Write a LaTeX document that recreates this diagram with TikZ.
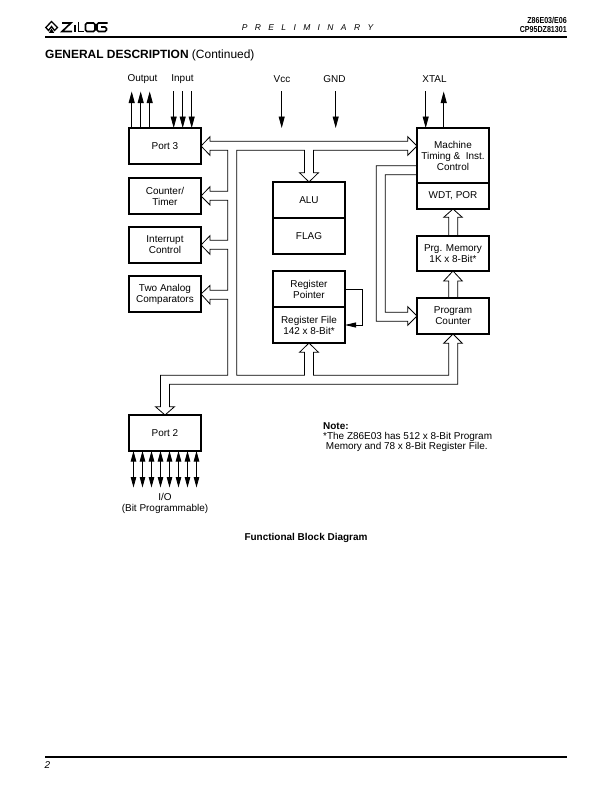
\documentclass[tikz,border=0pt]{standalone}
\usepackage{fontspec}
\setmainfont{Liberation Sans}
\newfontfamily\narrowf[FakeStretch=0.82]{Liberation Sans}
\usetikzlibrary{arrows.meta,calc}
\tikzset{
  block/.style={draw=black,line width=1.7bp,minimum width=72bp,inner sep=0pt,outer sep=0pt,align=center,font=\fontsize{10}{11}\selectfont,execute at begin node={\vspace*{1.6bp}}},
  bus/.style={draw=black,line width=0.8bp,line join=miter},
  sigin/.style={draw=black,line width=0.8bp,-{Triangle[length=11.5bp,width=6bp]}},
  sigfb/.style={draw=black,line width=0.8bp,-{Triangle[length=11bp,width=5bp]}},
  sigboth/.style={draw=black,line width=0.8bp,{Triangle[length=10.5bp,width=5.5bp]}-{Triangle[length=10.5bp,width=5.5bp]}},
  lbl/.style={inner sep=0pt,align=center,font=\fontsize{10}{11}\selectfont},
  rulebar/.style={draw=black,line width=2bp},
  logo/.style={draw=black,line width=1.6bp,line cap=butt}
}
\begin{document}
\begin{tikzpicture}[x=1bp,y=-1bp]
\useasboundingbox (0,0) rectangle (612,792);
% header
\coordinate (rtl) at (45,37); \coordinate (rtr) at (567,37);
\draw[rulebar] (rtl) -- (rtr);
\coordinate (rbl) at (45,757); \coordinate (rbr) at (567,757);
\draw[rulebar] (rbl) -- (rbr);
% logo
\draw[logo,line width=1.3bp] (51.5,21.5) -- (45.8,27.5) -- (48.5,30.5) -- (51.5,26.5) -- (54.5,30.5) -- (57.5,27.5) -- cycle;
\fill (51.5,28.5) -- (48.8,33) -- (54.2,33) -- cycle;
\draw[logo] (62,23) -- (71,23) -- (62,31.5) -- (72,31.5);
\draw[logo] (75,25) -- (75,32);
\draw[logo] (78.5,22) -- (78.5,31.5) -- (84,31.5);
\draw[logo,rounded corners=1.5bp] (85.5,23) rectangle (95,31.5);
\draw[logo,rounded corners=1.5bp] (107.5,23) -- (97,23) -- (97,31.5) -- (106.5,31.5) -- (106.5,27) -- (101,27);
\node[lbl,anchor=center,font=\fontsize{8.5}{10}\selectfont\itshape] (prelim) at (307.5,28) {P\hspace{7.4bp}R\hspace{7.4bp}E\hspace{7.4bp}L\hspace{7.4bp}I\hspace{7.4bp}M\hspace{7.4bp}I\hspace{7.4bp}N\hspace{7.4bp}A\hspace{7.4bp}R\hspace{7.4bp}Y};
\node[lbl,anchor=east,font=\fontsize{8.7}{9}\selectfont\bfseries\narrowf,align=right] (docid) at (567,24.7) {Z86E03/E06\\CP95DZ81301};
\node[lbl,anchor=west,font=\fontsize{12}{14}\selectfont] (title) at (45,55) {\textbf{GENERAL DESCRIPTION} (Continued)};
\node[lbl,anchor=west,font=\fontsize{10}{12}\selectfont\itshape] (pageno) at (44.5,765.5) {2};
% blocks
\node[block,minimum height=36bp] (port3) at (165,146) {Port 3};
\node[block,minimum height=36bp] (ct) at (165,196) {Counter/\\Timer};
\node[block,minimum height=36bp] (ic) at (165,245) {Interrupt\\Control};
\node[block,minimum height=36bp] (tac) at (165,294) {Two Analog\\Comparators};
\node[block,minimum height=36bp] (port2) at (165,433) {Port 2};
\node[block,minimum height=36bp] (alu) at (309,200) {ALU};
\node[block,minimum height=36bp] (flag) at (309,236) {FLAG};
\node[block,minimum height=36bp] (rp) at (309,289) {Register\\Pointer};
\node[block,minimum height=36bp] (rf) at (309,325) {Register File\\142 x 8-Bit*};
\node[block,minimum height=55bp] (mt) at (453,155.5) {Machine\\Timing \&\ \ Inst.\\Control};
\node[block,minimum height=26bp] (wdt) at (453,196) {WDT, POR};
\node[block,minimum height=35bp] (pm) at (453,253.5) {Prg. Memory\\1K x 8-Bit*};
\node[block,minimum height=36bp] (pc) at (453,316) {Program\\Counter};
% top labels
\node[lbl] (loutput) at (142.5,79.3) {Output};
\node[lbl] (linput) at (182.5,79.3) {Input};
\node[lbl] (lvcc) at (282,79.3) {Vcc};
\node[lbl] (lgnd) at (334.5,79.3) {GND};
\node[lbl] (lxtal) at (434.5,79.3) {XTAL};
% signal ends
\foreach \n/\x in {o1/131.7,o2/140.7,o3/149.7,xo/443.7}{\coordinate (\n) at (\x,91.5);}
\foreach \n/\x in {i1/173.7,i2/182.7,i3/191.7,vcc/281.7,gnd/335.7,xi/425.7}{\coordinate (\n) at (\x,91);}
\foreach \n in {o1,o2,o3}{\draw[sigin] (\n |- port3.north) -- (\n);}
\draw[sigin] (xo |- mt.north) -- (xo);
\foreach \n in {i1,i2,i3}{\draw[sigin] (\n) -- (\n |- port3.north);}
\draw[sigin] (xi) -- (xi |- mt.north);
\coordinate (vccend) at (281.7,128); \coordinate (gndend) at (335.7,128);
\draw[sigin] (vcc) -- (vccend);
\draw[sigin] (gnd) -- (gndend);
% port 2 I/O
\foreach \i in {0,...,7}{
  \coordinate (pb\i) at ({133.5+9*\i},487.5);
  \draw[sigboth] (pb\i |- port2.south) -- (pb\i);
}
\node[lbl] (lio) at (165,503.5) {I/O\\(Bit Programmable)};
% register feedback
\coordinate (fb) at (362.3,307);
\draw[sigfb] (rp.east |- 0,289.3) -| (fb) |- (rf.east);
% bus 1: port 3 / machine timing
\draw[bus] (210,150.3) -- (210,155.3) -- (port3.east) -- (210,136.7) -- (210,141.3) -- (407.7,141.3) -- (407.7,136.7) -- (mt.west |- 0,146) -- (407.7,155.3) -- (407.7,150.3) -- (313.4,150.3) -- (313.4,172.7) -- (318.5,172.7) -- (alu.north) -- (299.5,172.7) -- (304.4,172.7) -- (304.4,150.3) -- (236.7,150.3) -- (236.7,375.3) -- (304.4,375.3) -- (304.4,352.3) -- (299.5,352.3) -- (rf.south) -- (318.5,352.3) -- (313.4,352.3) -- (313.4,375.3) -- (448.7,375.3) -- (448.7,343.3) -- (443.7,343.3) -- (pc.south) -- (462.3,343.3) -- (457.7,343.3) -- (457.7,384.3) -- (169.4,384.3) -- (169.4,406.7) -- (174.5,406.7) -- (port2.north) -- (155.5,406.7) -- (160.4,406.7) -- (160.4,375.3) -- (227.7,375.3) -- (227.7,299.3) -- (210,299.3) -- (210,304) -- (tac.east) -- (210,285.5) -- (210,290.3) -- (227.7,290.3) -- (227.7,249.3) -- (210,249.3) -- (210,254.3) -- (ic.east) -- (210,235.7) -- (210,240.3) -- (227.7,240.3) -- (227.7,200.3) -- (210,200.3) -- (210,205) -- (ct.east) -- (210,186.7) -- (210,191.3) -- (227.7,191.3) -- (227.7,150.3) -- cycle;
% bus 2: machine timing to program counter
\draw[bus] (mt.west |- 0,165.7) -- (376.3,165.7) -- (376.3,321.3) -- (407.7,321.3) -- (407.7,325.3) -- (pc.west) -- (407.7,306.7) -- (407.7,312.3) -- (385.3,312.3) -- (385.3,174.7) -- (mt.west |- 0,174.7);
% memory arrows
\draw[bus] (448.7,235.7) -- (448.7,217.3) -- (443.7,217.3) -- (wdt.south) -- (462.3,217.3) -- (457.7,217.3) -- (457.7,235.7);
\draw[bus] (448.7,297.7) -- (448.7,281) -- (443.7,281) -- (pm.south) -- (462.3,281) -- (457.7,281) -- (457.7,297.7);
% note and caption
\node[lbl,anchor=north west,font=\fontsize{10}{10.2}\selectfont,align=left] (note) at (323,422) {\textbf{Note:}\\*The Z86E03 has 512 x 8-Bit Program\\\ Memory and 78 x 8-Bit Register File.};
\node[lbl,font=\fontsize{10}{11}\selectfont\bfseries] (cap) at (306,537.8) {Functional Block Diagram};
\end{tikzpicture}
\end{document}
